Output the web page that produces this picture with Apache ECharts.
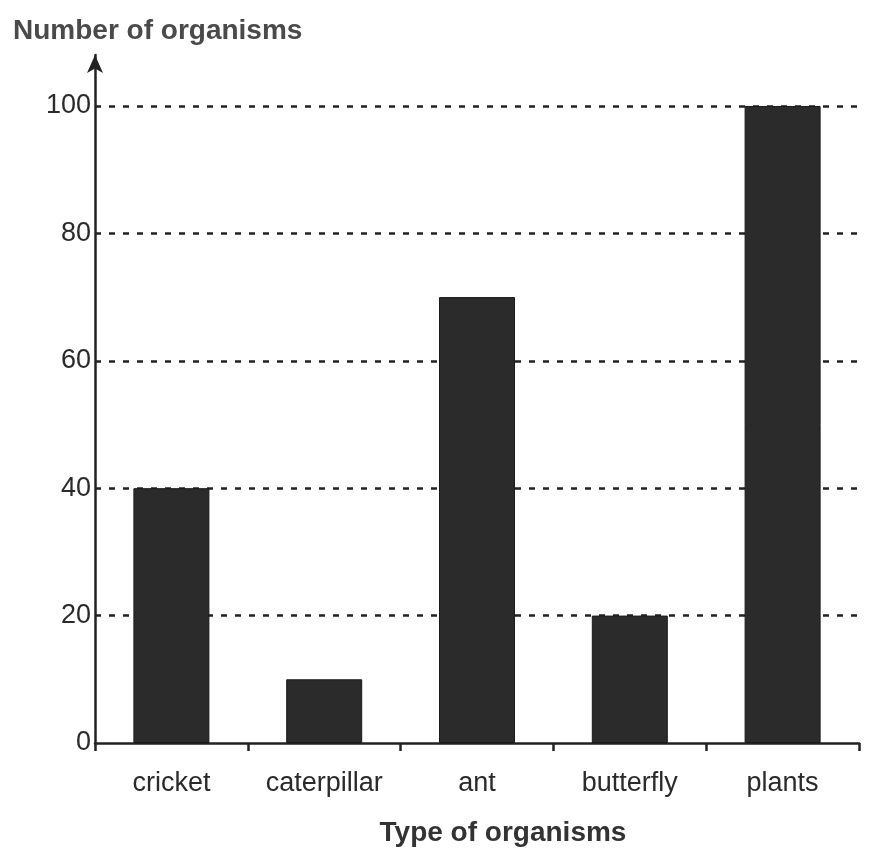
<!DOCTYPE html>
<html>
<head>
<meta charset="utf-8">
<script src="https://cdn.jsdelivr.net/npm/echarts@6/dist/echarts.min.js"></script>
<style>
    html, body { margin: 0; padding: 0; background: #fff; }
    #chart { width: 875px; height: 857px; }
</style>
</head>
<body>
<div id="chart"></div>
<script type="text/javascript">
    // data
    var organisms = ['cricket', 'caterpillar', 'ant', 'butterfly', 'plants'];
    var counts = [40, 10, 70, 20, 100];
    var yTicks = [0, 20, 40, 60, 80, 100];

    var myChart = echarts.init(document.getElementById('chart'));
    var inkColor = '#222';

    var chart_option = {
        animation: false,
        title: {
            text: 'Number of organisms',
            left: 8,
            top: 12,
            textStyle: {
                fontFamily: 'Liberation Sans',
                fontSize: 28,
                fontWeight: 'bold',
                color: '#4a4a4a'
            }
        },
        grid: {
            left: 95,
            right: 16,
            top: 55,
            bottom: 114,
            outerBoundsMode: 'none',
            containLabel: false
        },
        xAxis: {
            type: 'category',
            data: organisms,
            name: 'Type of organisms',
            nameLocation: 'middle',
            nameGap: 76,
            nameTextStyle: {
                fontFamily: 'Liberation Sans',
                fontSize: 28,
                fontWeight: 'bold',
                color: '#333',
                padding: [0, 0, 0, 52]
            },
            axisLine: {
                lineStyle: { color: inkColor, width: 2.5 }
            },
            axisTick: {
                show: true,
                alignWithLabel: false,
                length: 8,
                lineStyle: { color: inkColor, width: 2.5 }
            },
            axisLabel: {
                margin: 27,
                fontFamily: 'Liberation Sans',
                fontSize: 27,
                color: '#2a2a2a'
            }
        },
        yAxis: {
            type: 'value',
            min: 0,
            max: 108,
            interval: 20,
            axisLine: {
                show: true,
                symbol: ['none', 'arrow'],
                symbolSize: [12, 18],
                lineStyle: { color: inkColor, width: 2.5 }
            },
            axisTick: { show: false },
            axisLabel: {
                margin: 4,
                showMaxLabel: false,
                fontFamily: 'Liberation Sans',
                fontSize: 27,
                color: '#2a2a2a',
                formatter: function (v) {
                    return yTicks.indexOf(v) >= 0 ? v : '';
                }
            },
            splitLine: {
                show: true,
                showMinLine: false,
                showMaxLine: false,
                lineStyle: {
                    color: inkColor,
                    width: 2.5,
                    type: [6, 8]
                }
            }
        },
        series: [
            {
                name: 'Number of organisms',
                type: 'bar',
                data: counts,
                barWidth: 76,
                itemStyle: {
                    color: '#2b2b2b',
                    borderColor: '#1a1a1a',
                    borderWidth: 1
                }
            }
        ]
    };

    myChart.setOption(chart_option);
</script>
</body>
</html>
